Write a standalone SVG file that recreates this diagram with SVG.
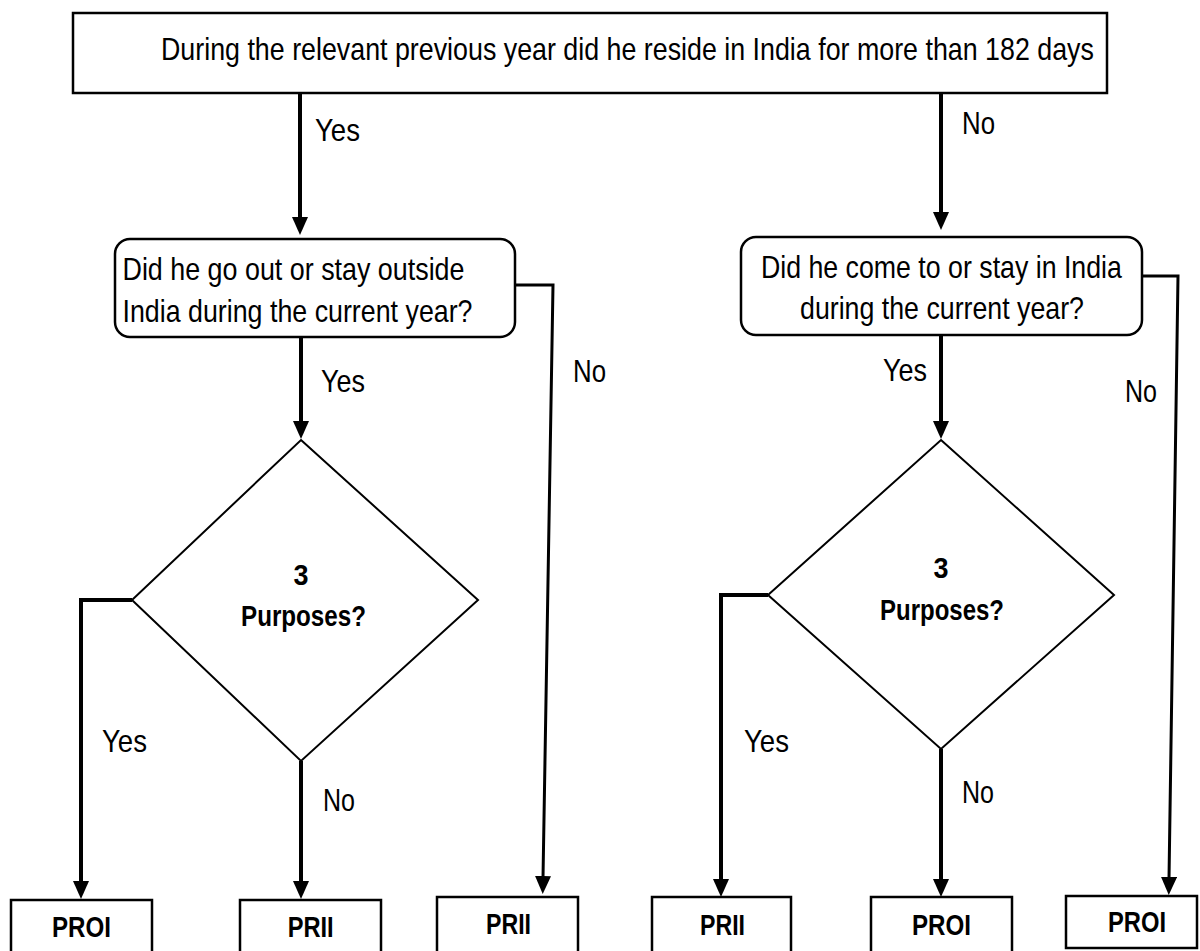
<svg xmlns="http://www.w3.org/2000/svg" width="1200" height="951" viewBox="0 0 1200 951">
<style>
  .t { font-family: "Liberation Sans Narrow", "Arial Narrow", "Liberation Sans", sans-serif; font-size: 32px; fill: #000; }
  .b { font-family: "Liberation Sans Narrow", "Arial Narrow", "Liberation Sans", sans-serif; font-size: 29px; font-weight: bold; fill: #000; }
  .box { fill: #fff; stroke: #000; stroke-width: 2.5; }
  .dia { fill: #fff; stroke: #000; stroke-width: 2; }
  .thick { fill: none; stroke: #000; stroke-width: 4; }
  .thin { fill: none; stroke: #000; stroke-width: 3; }
</style>
<defs>
  <marker id="ah" markerUnits="userSpaceOnUse" markerWidth="18" markerHeight="16" viewBox="0 0 18 16" refX="2" refY="8" orient="auto">
    <path d="M0,0 L18,8 L0,16 z" fill="#000"/>
  </marker>
</defs>
<rect width="1200" height="951" fill="#fff"/>

<g id="connectors">
  <line class="thick" x1="300" y1="93" x2="300" y2="219" marker-end="url(#ah)"/>
  <line class="thick" x1="941" y1="93" x2="941" y2="214" marker-end="url(#ah)"/>
  <line class="thick" x1="301" y1="337" x2="301" y2="423" marker-end="url(#ah)"/>
  <line class="thick" x1="941" y1="335" x2="941" y2="423" marker-end="url(#ah)"/>
  <polyline class="thin" points="515,285 553,285 543,878" marker-end="url(#ah)"/>
  <polyline class="thin" points="1142,276 1178,276 1169,879" marker-end="url(#ah)"/>
  <polyline class="thick" points="132,600 81,600 81,883" marker-end="url(#ah)"/>
  <line class="thick" x1="301" y1="761" x2="301" y2="883" marker-end="url(#ah)"/>
  <polyline class="thick" points="768,595 721,595 721,881" marker-end="url(#ah)"/>
  <line class="thick" x1="941" y1="749" x2="941" y2="881" marker-end="url(#ah)"/>
</g>

<g id="labels">
  <text class="t" x="315" y="141" textLength="45" lengthAdjust="spacingAndGlyphs">Yes</text>
  <text class="t" x="962" y="134" textLength="33" lengthAdjust="spacingAndGlyphs">No</text>
  <text class="t" x="321" y="392" textLength="44" lengthAdjust="spacingAndGlyphs">Yes</text>
  <text class="t" x="573" y="382" textLength="33" lengthAdjust="spacingAndGlyphs">No</text>
  <text class="t" x="102" y="752" textLength="45" lengthAdjust="spacingAndGlyphs">Yes</text>
  <text class="t" x="323" y="811" textLength="32" lengthAdjust="spacingAndGlyphs">No</text>
  <text class="t" x="883" y="381" textLength="44" lengthAdjust="spacingAndGlyphs">Yes</text>
  <text class="t" x="1125" y="402" textLength="32" lengthAdjust="spacingAndGlyphs">No</text>
  <text class="t" x="744" y="752" textLength="45" lengthAdjust="spacingAndGlyphs">Yes</text>
  <text class="t" x="962" y="803" textLength="32" lengthAdjust="spacingAndGlyphs">No</text>
</g>

<g id="n-top">
  <rect class="box" x="73" y="13" width="1034" height="80" stroke-width="3"/>
  <text class="t" transform="translate(161,60) scale(0.78,1)" x="0" y="0" textLength="1196" lengthAdjust="spacingAndGlyphs">During the relevant previous year did he reside in India for more than 182 days</text>
</g>

<g id="n-left-q">
  <rect class="box" x="115" y="239" width="400" height="98" rx="15" ry="15"/>
  <text class="t" x="122.5" y="280" textLength="342" lengthAdjust="spacingAndGlyphs">Did he go out or stay outside</text>
  <text class="t" x="122.5" y="322" textLength="350" lengthAdjust="spacingAndGlyphs">India during the current year?</text>
</g>

<g id="n-right-q">
  <rect class="box" x="741" y="237" width="401" height="98" rx="15" ry="15"/>
  <text class="t" x="941.4" y="278" text-anchor="middle" textLength="361" lengthAdjust="spacingAndGlyphs">Did he come to or stay in India</text>
  <text class="t" x="942" y="319" text-anchor="middle" textLength="284" lengthAdjust="spacingAndGlyphs">during the current year?</text>
</g>

<g id="n-left-dia">
  <polygon class="dia" points="301,440 478,600 301,761 132,600"/>
  <text class="b" x="301" y="585" text-anchor="middle" textLength="15" lengthAdjust="spacingAndGlyphs">3</text>
  <text class="b" x="303.5" y="626" text-anchor="middle" textLength="125" lengthAdjust="spacingAndGlyphs">Purposes?</text>
</g>

<g id="n-right-dia">
  <polygon class="dia" points="941,440 1114,595 941,749 768,595"/>
  <text class="b" x="941" y="578" text-anchor="middle" textLength="15" lengthAdjust="spacingAndGlyphs">3</text>
  <text class="b" x="942" y="620" text-anchor="middle" textLength="124" lengthAdjust="spacingAndGlyphs">Purposes?</text>
</g>

<g id="n-r1">
  <rect class="box" x="11" y="900" width="141" height="70" stroke-width="3.5"/>
  <text class="b" x="81.4" y="937" text-anchor="middle" textLength="59" lengthAdjust="spacingAndGlyphs">PROI</text>
</g>
<g id="n-r2">
  <rect class="box" x="240" y="900" width="141" height="70" stroke-width="2"/>
  <text class="b" x="310.7" y="937" text-anchor="middle" textLength="46" lengthAdjust="spacingAndGlyphs">PRII</text>
</g>
<g id="n-r3">
  <rect class="box" x="437" y="897" width="141" height="70" stroke-width="2"/>
  <text class="b" x="508.5" y="934" text-anchor="middle" textLength="45" lengthAdjust="spacingAndGlyphs">PRII</text>
</g>
<g id="n-r4">
  <rect class="box" x="652" y="897" width="139" height="70" stroke-width="2"/>
  <text class="b" x="722.5" y="935" text-anchor="middle" textLength="45" lengthAdjust="spacingAndGlyphs">PRII</text>
</g>
<g id="n-r5">
  <rect class="box" x="871" y="897" width="141" height="70" stroke-width="2"/>
  <text class="b" x="941.5" y="935" text-anchor="middle" textLength="59" lengthAdjust="spacingAndGlyphs">PROI</text>
</g>
<g id="n-r6">
  <rect class="box" x="1066" y="896" width="131" height="52" stroke-width="2"/>
  <text class="b" x="1137" y="932" text-anchor="middle" textLength="58" lengthAdjust="spacingAndGlyphs">PROI</text>
</g>
</svg>
